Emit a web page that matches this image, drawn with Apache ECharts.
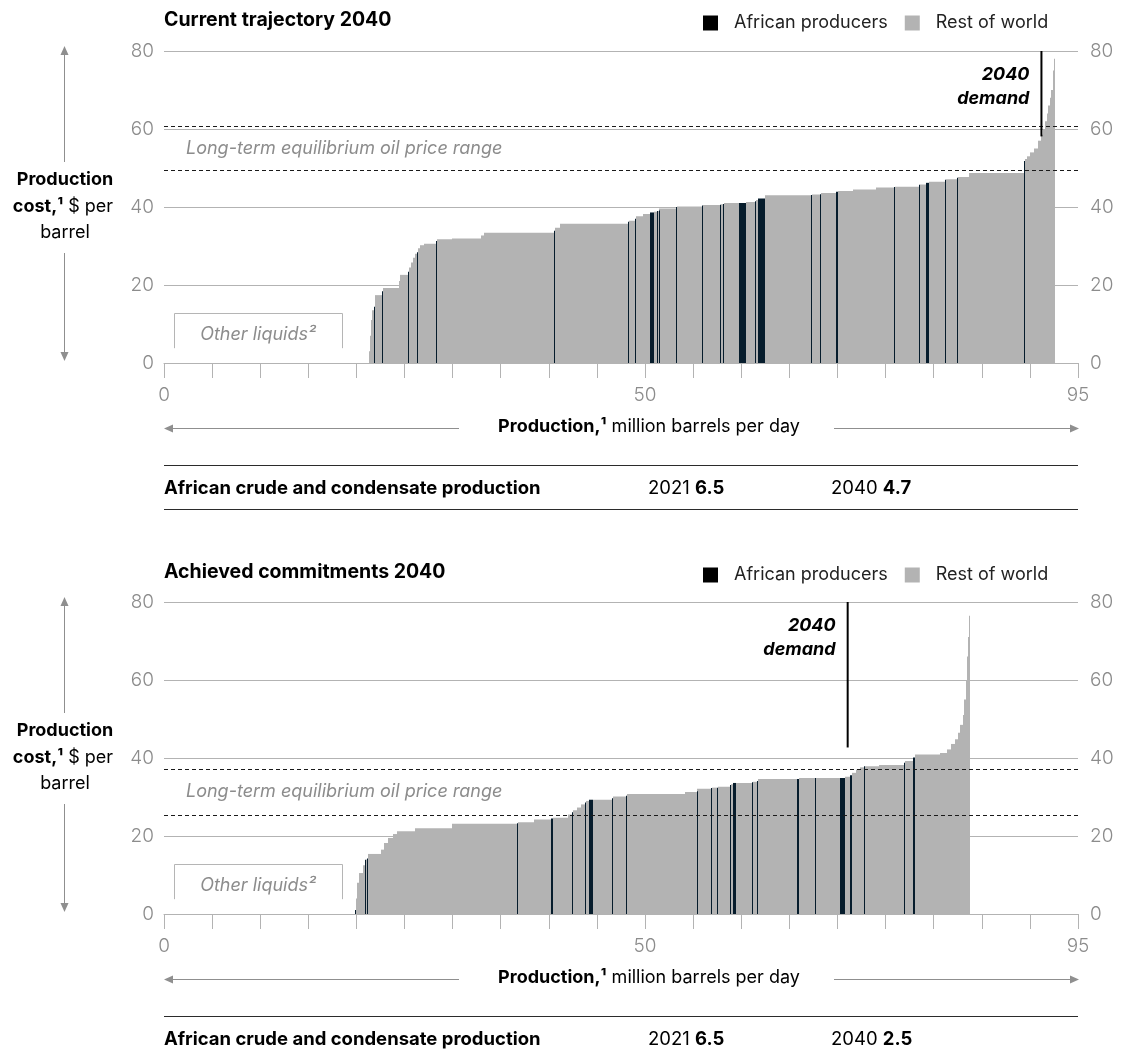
<!DOCTYPE html>
<html>
<head>
<meta charset="utf-8">
<title>Oil supply cost curves 2040</title>
<script src="https://cdn.jsdelivr.net/npm/echarts@6/dist/echarts.min.js"></script>
<style>
  html, body { margin: 0; padding: 0; background: #ffffff; }
  #chart { width: 1129px; height: 1059px; }
</style>
</head>
<body>
<div id="chart"></div>
<script>
// ---------------------------------------------------------------------------
// Data: supply segments sorted by production cost.
// widths = production, million barrels per day; costs = $ per barrel;
// producer: 'A' = African producers, 'R' = rest of world.
// ---------------------------------------------------------------------------

// Current trajectory 2040
const trajOtherLiquids = 21.3;
const trajWidths = [
  0.1, 0.1, 0.15, 0.15, 0.1, 0.8, 0.1, 1.6, 0.1, 0.9,
  0.1, 0.2, 0.2, 0.2, 0.2, 0.1, 0.2, 0.4, 1.3, 0.1,
  1.5, 3.1, 0.3, 7.2, 0.1, 0.6, 7.0, 0.1, 0.7, 0.1,
  0.7, 0.7, 0.4, 0.3, 0.1, 0.1, 0.1, 1.7, 0.1, 2.6,
  0.1, 1.8, 0.1, 0.2, 0.1, 1.55, 0.75, 0.9, 0.1, 0.2,
  0.8, 4.8, 0.1, 0.8, 0.1, 1.5, 0.25, 1.6, 2.35, 1.85,
  0.1, 2.55, 0.1, 0.6, 0.3, 1.7, 0.1, 1.15, 0.1, 1.1,
  5.75, 0.1, 0.2, 0.3, 0.4, 0.4, 0.35, 0.2, 0.2, 0.2,
  0.15, 0.15, 0.15, 0.15, 0.1, 0.1, 0.05
];
const trajCosts = [
  3, 7, 11, 13.5, 14.4, 17.4, 18.4, 19.2, 21, 22.6,
  23.4, 24.5, 25.8, 27, 28, 28.4, 29.4, 30.2, 30.6, 31.3,
  31.7, 31.9, 32.7, 33.4, 33.9, 34.7, 35.7, 36.2, 36.5, 37.0,
  37.6, 38.2, 38.6, 38.8, 39.0, 39.0, 39.1, 39.6, 40.0, 40.1,
  40.4, 40.5, 40.6, 40.7, 40.8, 41.0, 41.0, 41.3, 41.5, 41.8,
  42.2, 43.0, 43.1, 43.2, 43.3, 43.6, 43.9, 44.1, 44.5, 45.0,
  45.1, 45.2, 45.7, 45.8, 46.2, 46.5, 47.0, 47.1, 47.5, 47.7,
  48.7, 51.8, 52.3, 53.0, 54.0, 55.0, 57.0, 58.5, 60.0, 62.0,
  64.0, 66.0, 68.0, 70.0, 72.0, 75.0, 78.0
];
const trajProducer = [
  'R','R','R','R','A','R','A','R','R','R',
  'A','R','R','R','R','A','R','R','R','A',
  'R','R','R','R','A','R','R','A','R','A',
  'R','R','A','R','A','R','A','R','A','R',
  'A','R','A','R','A','R','A','R','A','R',
  'A','R','A','R','A','R','A','R','R','R',
  'A','R','A','R','A','R','A','R','A','R',
  'R','A','R','R','R','R','R','R','R','R',
  'R','R','R','R','R','R','R'
];
const trajDemand = 91.2;
const trajPriceRange = [49.4, 60.8];
const trajAfricanOutput = ['6.5', '4.7'];

// Achieved commitments 2040
const commitOtherLiquids = 19.9;
const commitWidths = [
  0.1, 0.1, 0.2, 0.4, 0.2, 0.1, 0.1, 0.1, 1.4, 0.3,
  0.4, 0.5, 0.4, 1.9, 3.8, 6.75, 0.1, 1.75, 1.7, 0.2,
  1.6, 0.45, 0.1, 0.35, 0.4, 0.5, 0.1, 0.3, 0.35, 2.05,
  0.1, 1.3, 0.1, 6.1, 1.15, 0.1, 1.4, 0.1, 0.55, 0.1,
  1.2, 0.1, 0.2, 0.35, 1.65, 0.1, 0.4, 0.1, 4.1, 0.25,
  1.65, 0.1, 2.5, 0.45, 0.5, 0.3, 0.35, 0.4, 0.5, 0.1,
  1.4, 2.6, 0.1, 0.85, 0.25, 2.6, 0.65, 0.45, 0.4, 0.3,
  0.25, 0.25, 0.2, 0.15, 0.1, 0.1, 0.1, 0.1
];
const commitCosts = [
  1.0, 4.0, 8.0, 10.5, 12.5, 13.9, 14.0, 14.2, 15.4, 16.5,
  18.2, 19.5, 20.5, 21.2, 22.0, 23.15, 23.3, 23.5, 24.2, 24.5,
  24.7, 25.5, 26.1, 26.6, 27.3, 28.1, 28.6, 29.0, 29.3, 29.3,
  29.7, 30.1, 30.3, 30.8, 31.3, 31.5, 32.1, 32.3, 32.4, 32.4,
  32.6, 33.1, 33.3, 33.6, 33.6, 33.8, 33.9, 34.1, 34.6, 34.6,
  34.9, 34.9, 34.9, 34.9, 35.2, 35.6, 36.2, 37.0, 37.6, 37.9,
  37.9, 38.2, 38.8, 39.2, 40.1, 40.9, 41.3, 42.2, 43.6, 44.8,
  46.5, 48.5, 51.0, 55.0, 60.0, 66.0, 71.0, 76.5
];
const commitProducer = [
  'A','R','R','R','R','A','R','A','R','R',
  'R','R','R','R','R','R','A','R','R','A',
  'R','R','A','R','R','R','A','R','A','R',
  'A','R','A','R','R','A','R','A','R','A',
  'R','A','R','A','R','A','R','A','R','A',
  'R','A','R','A','R','A','R','R','R','A',
  'R','R','A','R','A','R','R','R','R','R',
  'R','R','R','R','R','R','R','R'
];
const commitDemand = 71.06;
const commitPriceRange = [25.4, 37.2];
const commitAfricanOutput = ['6.5', '2.5'];

const panelTitles = ['Current trajectory 2040', 'Achieved commitments 2040'];
const outputYears = ['2021', '2040'];
const xLabelValues = [0, 50, 95];

// ---------------------------------------------------------------------------
// Styling constants
// ---------------------------------------------------------------------------
const FONT = 'Inter, "Noto Sans", Roboto, sans-serif';
const AFRICA = '#061c2c';
const REST = '#b3b3b3';
const GRID_GREY = '#b3b3b3';
const LABEL_GREY = '#8c8c8c';
const ARROW_GREY = '#8f8f8f';

function buildSegments(start, widths, costs, producer) {
  const african = [];
  const rest = [];
  let x = start;
  widths.forEach(function (w, i) {
    (producer[i] === 'A' ? african : rest).push([x, x + w, costs[i]]);
    x += w;
  });
  return { african: african, rest: rest };
}

// Each segment is a rectangle from its start to end volume, up to its cost.
// Edges are snapped to whole pixels so neighbouring segments tile without seams.
function barRenderer(params, api) {
  const top = api.coord([api.value(0), api.value(2)]);
  const base = api.coord([api.value(1), 0]);
  const x0 = Math.round(top[0]);
  const x1 = Math.max(Math.round(base[0]), x0 + 1);
  return {
    type: 'rect',
    shape: { x: x0, y: top[1], width: x1 - x0, height: base[1] - top[1] },
    style: { fill: api.visual('color') }
  };
}

function demandRenderer(lineEnd) {
  return function (params, api) {
    const x = api.value(0);
    const top = api.coord([x, 80]);
    const bottom = api.coord([x, lineEnd]);
    return {
      type: 'group',
      children: [
        { type: 'line', shape: { x1: top[0], y1: top[1], x2: bottom[0], y2: bottom[1] },
          style: { stroke: '#000', lineWidth: 2 } },
        { type: 'text', style: { text: '2040\ndemand', x: top[0] - 12, y: top[1] + 12,
          align: 'right', verticalAlign: 'top', fontFamily: FONT, fontSize: 18,
          fontStyle: 'italic', fontWeight: 'bold', lineHeight: 24, fill: '#000' } }
      ]
    };
  };
}

function rangeRenderer(params, api) {
  const lo = api.value(0);
  const hi = api.value(1);
  const a0 = api.coord([0, lo]), a1 = api.coord([95, lo]);
  const b0 = api.coord([0, hi]), b1 = api.coord([95, hi]);
  const mid = api.coord([0, (lo + hi) / 2]);
  const dash = { stroke: '#1a1a1a', lineWidth: 1.2, lineDash: [4, 3] };
  return {
    type: 'group',
    children: [
      { type: 'line', shape: { x1: a0[0], y1: Math.round(a0[1]) + 0.5, x2: a1[0] + 3, y2: Math.round(a1[1]) + 0.5 }, style: dash },
      { type: 'line', shape: { x1: b0[0], y1: Math.round(b0[1]) + 0.5, x2: b1[0] + 3, y2: Math.round(b1[1]) + 0.5 }, style: dash },
      { type: 'text', style: { text: 'Long-term equilibrium oil price range', x: mid[0] + 22, y: mid[1],
        verticalAlign: 'middle', fontFamily: FONT, fontSize: 18, fontStyle: 'italic', fill: LABEL_GREY } }
    ]
  };
}

// Open-bottomed bracket marking the other-liquids volume at the start of the curve.
function otherLiquidsRenderer(params, api) {
  const tl = api.coord([1.05, 12.8]);
  const br = api.coord([18.5, 3.8]);
  const mid = api.coord([(1.05 + 18.5) / 2, 7.3]);
  const l = Math.round(tl[0]) + 0.5, r = Math.round(br[0]) + 0.5, t = Math.round(tl[1]) + 0.5, b = br[1];
  return {
    type: 'group',
    children: [
      { type: 'polyline', shape: { points: [[l, b], [l, t], [r, t], [r, b]] },
        style: { stroke: '#b5b5b5', lineWidth: 1, fill: null } },
      { type: 'text', style: { text: 'Other liquids²', x: mid[0], y: mid[1], align: 'center',
        verticalAlign: 'middle', fontFamily: FONT, fontSize: 18, fontStyle: 'italic', fill: LABEL_GREY } }
    ]
  };
}

function panelSeries(idx, segs, demand, demandEnd, range, otherLiquids) {
  const axes = { xAxisIndex: idx, yAxisIndex: idx * 2 };
  return [
    Object.assign({ type: 'custom', name: 'Rest of world', renderItem: barRenderer,
      itemStyle: { color: REST }, encode: { x: [0, 1], y: 2 }, data: segs.rest, z: 2, silent: true }, axes),
    Object.assign({ type: 'custom', name: 'African producers', renderItem: barRenderer,
      itemStyle: { color: AFRICA }, encode: { x: [0, 1], y: 2 }, data: segs.african, z: 3, silent: true }, axes),
    Object.assign({ type: 'custom', name: 'otherLiquids', renderItem: otherLiquidsRenderer,
      data: [[otherLiquids, 0]], z: 4, silent: true }, axes),
    Object.assign({ type: 'custom', name: 'priceRange', renderItem: rangeRenderer,
      encode: { x: -1, y: [0, 1] }, data: [range], z: 5, silent: true }, axes),
    Object.assign({ type: 'custom', name: 'demand', renderItem: demandRenderer(demandEnd),
      data: [[demand, demandEnd]], z: 6, silent: true }, axes)
  ];
}

function xAxisFor(idx) {
  return {
    type: 'value', gridIndex: idx, min: 0, max: 95, interval: 5,
    axisLine: { show: true, lineStyle: { color: GRID_GREY, width: 1 } },
    axisTick: { show: true, length: 15, lineStyle: { color: GRID_GREY, width: 1 } },
    splitLine: { show: false },
    axisLabel: {
      margin: 23, fontFamily: FONT, fontSize: 19, fontWeight: 300, color: LABEL_GREY,
      showMinLabel: true, showMaxLabel: true,
      formatter: function (v) { return xLabelValues.indexOf(v) >= 0 ? String(v) : ''; }
    }
  };
}

function yAxesFor(idx) {
  const base = {
    type: 'value', gridIndex: idx, min: 0, max: 80, interval: 20,
    axisLine: { show: false }, axisTick: { show: false }
  };
  return [
    Object.assign({}, base, { position: 'left',
      splitLine: { show: true, lineStyle: { color: GRID_GREY, width: 1 } },
      axisLabel: { margin: 10, fontFamily: FONT, fontSize: 19, fontWeight: 300, color: LABEL_GREY } }),
    Object.assign({}, base, { position: 'right', splitLine: { show: false },
      axisLabel: { margin: 12, fontFamily: FONT, fontSize: 19, fontWeight: 300, color: LABEL_GREY } })
  ];
}

function arrowHead(tipX, tipY, dir) {
  const L = 9, H = 4;
  let pts;
  if (dir === 'up') pts = [[tipX, tipY], [tipX - H, tipY + L], [tipX + H, tipY + L]];
  if (dir === 'down') pts = [[tipX, tipY], [tipX - H, tipY - L], [tipX + H, tipY - L]];
  if (dir === 'left') pts = [[tipX, tipY], [tipX + L, tipY - H], [tipX + L, tipY + H]];
  if (dir === 'right') pts = [[tipX, tipY], [tipX - L, tipY - H], [tipX - L, tipY + H]];
  return { type: 'polygon', shape: { points: pts }, style: { fill: ARROW_GREY } };
}

function vline(x, y1, y2, color) {
  return { type: 'line', shape: { x1: x + 0.5, y1: y1, x2: x + 0.5, y2: y2 }, style: { stroke: color, lineWidth: 1 } };
}
function hline(x1, x2, y, color) {
  return { type: 'line', shape: { x1: x1, y1: y + 0.5, x2: x2, y2: y + 0.5 }, style: { stroke: color, lineWidth: 1 } };
}
function label(x, y, text, opts) {
  return { type: 'text', style: Object.assign({ text: text, x: x, y: y, fontFamily: FONT, fontSize: 18,
    fill: '#000', verticalAlign: 'middle' }, opts || {}) };
}
function boldRich(size) {
  return { b: { fontWeight: 'bold', fontFamily: FONT, fontSize: size, fill: '#000' } };
}

// Axis titles, arrows and the output table beneath each panel.
function panelGraphics(dy, output, drawBottomRule) {
  const els = [
    // vertical axis title
    arrowHead(64.5, 46 + dy, 'up'),
    vline(64, 54 + dy, 162 + dy, ARROW_GREY),
    label(65, 180 + dy, 'Production', { align: 'center', fontWeight: 'bold' }),
    label(63, 207 + dy, '{b|cost,¹} $ per', { align: 'center', rich: boldRich(18) }),
    label(65, 233 + dy, 'barrel', { align: 'center' }),
    vline(64, 253 + dy, 353 + dy, ARROW_GREY),
    arrowHead(64.5, 361 + dy, 'down'),
    // horizontal axis title
    arrowHead(164, 428.5 + dy, 'left'),
    hline(172, 459, 428 + dy, ARROW_GREY),
    label(649, 427 + dy, '{b|Production,¹} million barrels per day', { align: 'center', rich: boldRich(18) }),
    hline(834, 1071, 428 + dy, ARROW_GREY),
    arrowHead(1079, 428.5 + dy, 'right'),
    // output table
    hline(164, 1078, 465 + dy, '#2b2b2b'),
    label(164, 488 + dy, 'African crude and condensate production', { fontWeight: 'bold', fontSize: 18.5 }),
    label(648, 488 + dy, outputYears[0] + ' {b|' + output[0] + '}', { fontSize: 18.5, rich: boldRich(18.5) }),
    label(831, 488 + dy, outputYears[1] + ' {b|' + output[1] + '}', { fontSize: 18.5, rich: boldRich(18.5) })
  ];
  if (drawBottomRule) els.push(hline(164, 1078, 509 + dy, '#2b2b2b'));
  return els;
}

const trajSegs = buildSegments(trajOtherLiquids, trajWidths, trajCosts, trajProducer);
const commitSegs = buildSegments(commitOtherLiquids, commitWidths, commitCosts, commitProducer);

const legendBase = {
  left: 703, padding: 0, icon: 'rect', itemWidth: 15, itemHeight: 15, itemGap: 17,
  selectedMode: false,
  textStyle: { fontFamily: FONT, fontSize: 18, color: '#222', padding: [0, 0, 0, 11] },
  data: [{ name: 'African producers', itemStyle: { color: '#000' } }, { name: 'Rest of world' }]
};

const titleStyle = { fontFamily: FONT, fontSize: 19.5, fontWeight: 'bold', color: '#000' };

const option = {
  animation: false,
  backgroundColor: '#ffffff',
  title: [
    { text: panelTitles[0], left: 164, top: 10, padding: 0, textStyle: titleStyle },
    { text: panelTitles[1], left: 164, top: 562, padding: 0, textStyle: titleStyle }
  ],
  legend: [
    Object.assign({}, legendBase, { top: 14 }),
    Object.assign({}, legendBase, { top: 566 })
  ],
  grid: [
    { left: 164, right: 51, top: 51, height: 312 },
    { left: 164, right: 51, top: 602, height: 312 }
  ],
  xAxis: [xAxisFor(0), xAxisFor(1)],
  yAxis: yAxesFor(0).concat(yAxesFor(1)),
  series: panelSeries(0, trajSegs, trajDemand, 58.1, trajPriceRange, trajOtherLiquids)
    .concat(panelSeries(1, commitSegs, commitDemand, 42.7, commitPriceRange, commitOtherLiquids)),
  graphic: { elements: panelGraphics(0, trajAfricanOutput, true).concat(panelGraphics(551, commitAfricanOutput, false)) }
};

const chart = echarts.init(document.getElementById('chart'), null, { renderer: 'canvas' });
chart.setOption(option);
</script>
</body>
</html>
